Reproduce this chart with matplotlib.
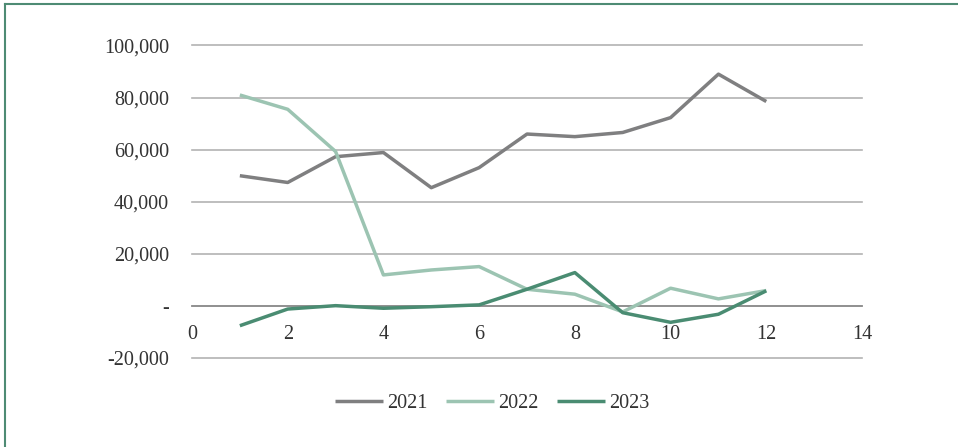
import matplotlib
matplotlib.use("Agg")
import matplotlib.pyplot as plt
from matplotlib.lines import Line2D
from matplotlib.ticker import FuncFormatter

months = [1, 2, 3, 4, 5, 6, 7, 8, 9, 10, 11, 12]
series_names = ["2021", "2022", "2023"]
values_2021 = [50000, 47400, 57300, 58900, 45400, 53100, 66000, 65000, 66600, 72300, 89000, 78500]
values_2022 = [81000, 75500, 59300, 11900, 13800, 15100, 6400, 4500, -2300, 6800, 2700, 5900]
values_2023 = [-7600, -1200, 100, -900, -300, 400, 6400, 12800, -2600, -6300, -3200, 5800]
x_ticks = [0, 2, 4, 6, 8, 10, 12, 14]
y_ticks = [-20000, 0, 20000, 40000, 60000, 80000, 100000]

colors = ["#7f7f80", "#9cc4b2", "#4a8c72"]

plt.rcParams['font.family'] = ['Liberation Serif', 'DejaVu Serif']

fig = plt.figure(figsize=(9.58, 4.47), dpi=100)
ax = fig.add_axes([192/958, 1-358/447, 670/958, (358-45.5)/447])

for vals, c, name in zip([values_2021, values_2022, values_2023], colors, series_names):
    ax.plot(months, vals, color=c, lw=2.5, label=name, solid_capstyle='butt', zorder=3)

ax.set_xlim(0, 14)
ax.set_ylim(-20000, 100000)
ax.set_xticks(x_ticks)
ax.set_yticks(y_ticks)

def fmt(v, pos):
    if v == 0:
        return "-"
    return f"{int(v):,}"

ax.yaxis.set_major_formatter(FuncFormatter(fmt))
ax.grid(axis='y', color='#b3b3b3', lw=1.2, zorder=1)
for gl in ax.get_ygridlines():
    gl.set_clip_on(False)
ax.set_axisbelow(True)
for s in ax.spines.values():
    s.set_visible(False)
ax.spines['bottom'].set_visible(True)
ax.spines['bottom'].set_position(('data', 0))
ax.spines['bottom'].set_color('#8a8a8a')
ax.spines['bottom'].set_linewidth(1.2)
ax.tick_params(axis='both', length=0, labelsize=14.5, colors='#333333')
ax.tick_params(axis='y', pad=16.5)
ax.tick_params(axis='x', pad=14)

leg = ax.legend(loc='center', bbox_to_anchor=(492/958, 1-403/447), bbox_transform=fig.transFigure,
                ncol=3, frameon=False, fontsize=14.5, handlelength=2.4, handletextpad=0.2,
                columnspacing=0.9)
for t in leg.get_texts():
    t.set_color('#333333')

border_c = '#4e8b74'
fig.add_artist(Line2D([5/958, 1.0], [1-4/447, 1-4/447], transform=fig.transFigure, color=border_c, lw=1.5))
fig.add_artist(Line2D([5/958, 5/958], [0, 1-4/447], transform=fig.transFigure, color=border_c, lw=1.5))

fig.savefig("out.png", dpi=100)
